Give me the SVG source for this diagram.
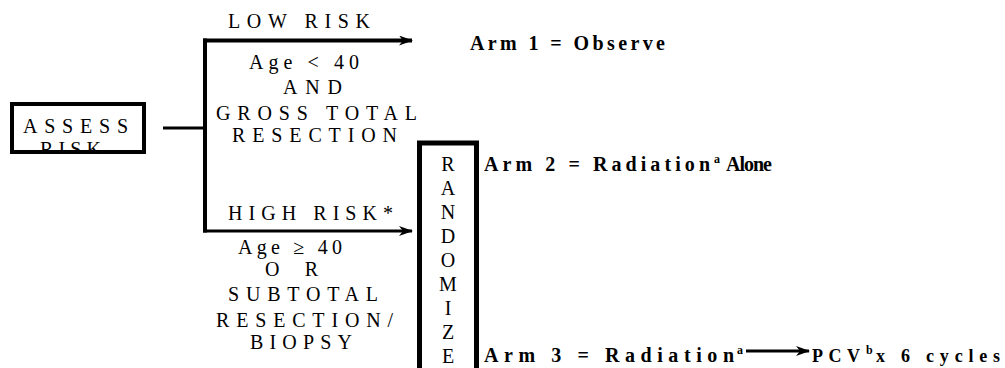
<svg xmlns="http://www.w3.org/2000/svg" width="1005" height="368" viewBox="0 0 1005 368">
  <style>
    .lbl { font-family: 'Liberation Serif', 'Times New Roman', Times, serif; font-size: 20px; fill: #000; }
    .arm { font-family: 'Liberation Serif', 'Times New Roman', Times, serif; font-size: 20px; font-weight: bold; fill: #000; }
    .sup { font-family: 'Liberation Serif', 'Times New Roman', Times, serif; font-size: 12px; font-weight: bold; fill: #000; }
    .small { font-family: 'Liberation Serif', 'Times New Roman', Times, serif; font-size: 18px; font-weight: bold; fill: #000; }
    .frame { fill: #fff; stroke: #000; }
    .wire { fill: none; stroke: #000; }
  </style>
  <defs>
    <marker id="head" viewBox="0 0 14 10" markerUnits="userSpaceOnUse" markerWidth="14" markerHeight="10" refX="13" refY="5" orient="auto">
      <path d="M0,0 L14,5 L0,10 L4,5 z" fill="#000"/>
    </marker>
    <clipPath id="assessClip">
      <rect x="12" y="104" width="132" height="48"/>
    </clipPath>
  </defs>

  <!-- connectors -->
  <g id="connectors">
    <line class="wire" x1="163" y1="128" x2="205" y2="128" stroke-width="3"/>
    <line class="wire" x1="205" y1="38.5" x2="205" y2="232.5" stroke-width="4"/>
    <line class="wire" x1="203" y1="40.5" x2="412" y2="40.5" stroke-width="4" marker-end="url(#head)"/>
    <line class="wire" x1="203" y1="231" x2="412" y2="231" stroke-width="3" marker-end="url(#head)"/>
    <line class="wire" x1="746" y1="351" x2="809" y2="351" stroke-width="3" marker-end="url(#head)"/>
  </g>

  <!-- ASSESS RISK -->
  <g id="assess">
    <rect class="frame" x="12" y="104" width="132" height="48" stroke-width="4"/>
    <g clip-path="url(#assessClip)">
      <text class="lbl" x="23" y="133" textLength="105" lengthAdjust="spacing">ASSESS</text>
      <text class="lbl" x="40" y="156" textLength="61" lengthAdjust="spacing">RISK</text>
    </g>
  </g>

  <!-- low risk branch -->
  <g id="low-risk">
    <text class="lbl" x="228" y="28" textLength="142" lengthAdjust="spacing">LOW RISK</text>
    <text class="lbl" x="249" y="69" textLength="110" lengthAdjust="spacing">Age &lt; 40</text>
    <text class="lbl" x="283" y="94" textLength="59" lengthAdjust="spacing">AND</text>
    <text class="lbl" x="216" y="120" textLength="201" lengthAdjust="spacing">GROSS TOTAL</text>
    <text class="lbl" x="232" y="142" textLength="165" lengthAdjust="spacing">RESECTION</text>
  </g>

  <!-- high risk branch -->
  <g id="high-risk">
    <text class="lbl" x="228" y="220" textLength="165" lengthAdjust="spacing">HIGH RISK*</text>
    <text class="lbl" x="238" y="254" textLength="104" lengthAdjust="spacing">Age ≥ 40</text>
    <text class="lbl" x="265" y="276" textLength="53" lengthAdjust="spacing">OR</text>
    <text class="lbl" x="228" y="301" textLength="150" lengthAdjust="spacing">SUBTOTAL</text>
    <text class="lbl" x="216" y="327" textLength="177" lengthAdjust="spacing">RESECTION/</text>
    <text class="lbl" x="250" y="349" textLength="102" lengthAdjust="spacing">BIOPSY</text>
  </g>

  <!-- randomize column -->
  <g id="randomize">
    <rect class="frame" x="419.5" y="143" width="57" height="240" stroke-width="5"/>
    <g class="lbl" text-anchor="middle">
      <text x="448" y="171">R</text>
      <text x="448" y="195">A</text>
      <text x="448" y="219">N</text>
      <text x="448" y="243">D</text>
      <text x="448" y="267">O</text>
      <text x="448" y="291">M</text>
      <text x="448" y="315">I</text>
      <text x="448" y="339">Z</text>
      <text x="448" y="363">E</text>
    </g>
  </g>

  <!-- arms -->
  <g id="arm1">
    <text class="arm" x="470" y="50" textLength="195" lengthAdjust="spacing">Arm 1 = Observe</text>
  </g>
  <g id="arm2">
    <text class="arm" x="484" y="171" textLength="226" lengthAdjust="spacing">Arm 2 = Radiation</text>
    <text class="sup" x="714" y="163">a</text>
    <text class="arm" x="726" y="171" textLength="46" lengthAdjust="spacing">Alone</text>
  </g>
  <g id="arm3">
    <text class="arm" x="484" y="362" textLength="250" lengthAdjust="spacing">Arm 3 = Radiation</text>
    <text class="sup" x="737" y="354">a</text>
    <text class="small" x="812" y="362" textLength="48" lengthAdjust="spacing">PCV</text>
    <text class="sup" x="866" y="354">b</text>
    <text class="small" x="876" y="362" textLength="124" lengthAdjust="spacing">x 6 cycles</text>
  </g>
</svg>
